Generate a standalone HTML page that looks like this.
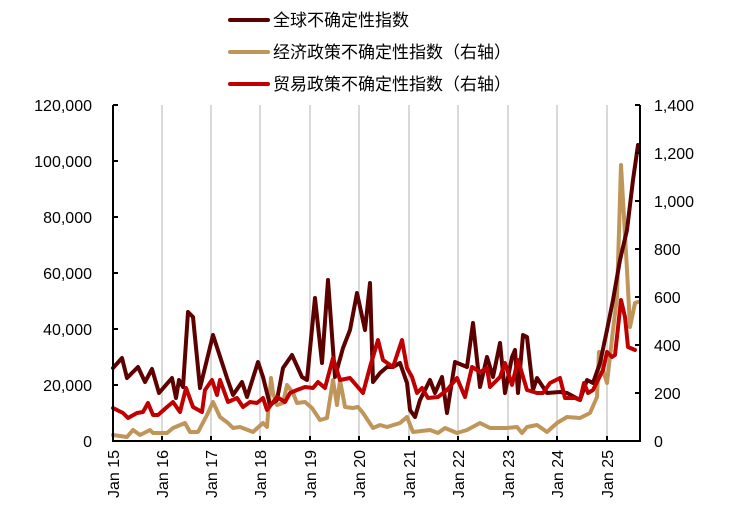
<!DOCTYPE html><html><head><meta charset="utf-8"><style>body{margin:0;background:#fff}svg{display:block}text{font-family:"Liberation Sans","Noto Sans CJK SC",sans-serif;fill:#000}</style></head><body>
<svg width="730" height="515" viewBox="0 0 730 515">
<g stroke="#d9d9d9" stroke-width="2">
<line x1="162" y1="105" x2="162" y2="441"/><line x1="211" y1="105" x2="211" y2="441"/><line x1="260" y1="105" x2="260" y2="441"/><line x1="310" y1="105" x2="310" y2="441"/><line x1="359" y1="105" x2="359" y2="441"/><line x1="409" y1="105" x2="409" y2="441"/><line x1="458" y1="105" x2="458" y2="441"/><line x1="508" y1="105" x2="508" y2="441"/><line x1="557" y1="105" x2="557" y2="441"/><line x1="607" y1="105" x2="607" y2="441"/>
</g>
<g fill="none" stroke-width="4" stroke-linejoin="round" stroke-linecap="round">
<polyline stroke="#c0955a" points="113,435 127,437 133,430 140,435 150,430 153,433 167,433 173,428 185,423 190,432 198,432 207,415 213,402 220,417 228,423 233,428 240,427 253,432 263,423 267,427 271,378 273,393 277,405 283,403 287,385 293,393 297,403 305,402 312,408 320,420 327,418 333,380 337,405 340,380 345,407 353,408 358,407 363,413 373,428 380,425 387,427 400,423 407,417 413,432 430,430 438,433 445,428 457,433 467,430 480,423 490,428 507,428 517,427 522,433 527,427 537,425 547,432 557,423 567,417 580,418 590,413 597,397 599,352 603,370 607,383 613,330 617,297 621,165 627,270 630,327 635,303 638,302"/>
<polyline stroke="#5c0000" points="113,368 122,358 127,378 138,367 145,382 152,369 159,393 172,378 176,398 179,380 183,387 188,312 193,317 200,388 213,335 227,378 233,395 242,382 247,397 258,362 263,377 270,405 277,400 283,368 292,355 302,377 307,380 315,298 322,363 328,280 335,377 343,348 350,330 357,293 365,330 370,283 373,382 380,373 387,367 393,367 400,363 407,383 410,410 415,417 420,400 430,380 435,393 442,377 447,413 455,362 467,367 473,323 480,387 487,357 493,377 500,343 505,393 512,357 515,350 518,393 523,335 527,337 533,390 537,378 547,393 560,392 567,393 580,400 587,380 593,383 600,363 607,330 613,300 620,260 627,230 633,180 638,145"/>
<polyline stroke="#c00000" points="113,408 123,413 128,418 137,413 143,412 148,403 153,415 158,415 167,407 173,402 180,412 186,388 193,407 202,412 205,390 212,380 217,395 220,380 228,402 237,398 243,407 250,402 257,403 263,398 267,410 277,397 285,402 290,393 297,390 305,387 313,388 318,382 325,388 333,358 340,380 350,378 363,393 370,367 378,340 383,360 393,367 398,352 402,340 407,368 412,377 417,393 422,388 428,398 438,397 447,390 457,378 465,397 472,367 480,372 487,368 490,387 500,377 505,363 512,385 518,360 527,390 537,393 543,393 550,383 560,378 565,398 575,398 580,400 584,383 588,393 593,390 603,370 607,352 612,357 615,355 621,300 625,317 628,347 635,350"/>
</g>
<g stroke="#000" stroke-width="2">
<line x1="113" y1="105" x2="113" y2="442"/><line x1="112" y1="441" x2="640" y2="441"/><line x1="640" y1="105" x2="640" y2="442"/>
<line x1="113" y1="105" x2="118" y2="105"/><line x1="113" y1="161" x2="118" y2="161"/><line x1="113" y1="217" x2="118" y2="217"/><line x1="113" y1="273" x2="118" y2="273"/><line x1="113" y1="329" x2="118" y2="329"/><line x1="113" y1="385" x2="118" y2="385"/>
<line x1="635" y1="105" x2="640" y2="105"/><line x1="635" y1="153" x2="640" y2="153"/><line x1="635" y1="201" x2="640" y2="201"/><line x1="635" y1="249" x2="640" y2="249"/><line x1="635" y1="297" x2="640" y2="297"/><line x1="635" y1="345" x2="640" y2="345"/><line x1="635" y1="393" x2="640" y2="393"/>
<line x1="162" y1="436" x2="162" y2="441"/><line x1="211" y1="436" x2="211" y2="441"/><line x1="260" y1="436" x2="260" y2="441"/><line x1="310" y1="436" x2="310" y2="441"/><line x1="359" y1="436" x2="359" y2="441"/><line x1="409" y1="436" x2="409" y2="441"/><line x1="458" y1="436" x2="458" y2="441"/><line x1="508" y1="436" x2="508" y2="441"/><line x1="557" y1="436" x2="557" y2="441"/><line x1="607" y1="436" x2="607" y2="441"/>
</g>
<g font-size="16" text-anchor="end">
<text x="92" y="111">120,000</text><text x="92" y="167">100,000</text><text x="92" y="223">80,000</text><text x="92" y="279">60,000</text><text x="92" y="335">40,000</text><text x="92" y="391">20,000</text><text x="92" y="447">0</text>
</g>
<g font-size="16">
<text x="654" y="111">1,400</text><text x="654" y="159">1,200</text><text x="654" y="207">1,000</text><text x="654" y="255">800</text><text x="654" y="303">600</text><text x="654" y="351">400</text><text x="654" y="399">200</text><text x="654" y="447">0</text>
</g>
<g font-size="16" text-anchor="end">
<text transform="translate(119,450) rotate(-90)">Jan 15</text><text transform="translate(168,450) rotate(-90)">Jan 16</text><text transform="translate(217,450) rotate(-90)">Jan 17</text><text transform="translate(266,450) rotate(-90)">Jan 18</text><text transform="translate(316,450) rotate(-90)">Jan 19</text><text transform="translate(365,450) rotate(-90)">Jan 20</text><text transform="translate(415,450) rotate(-90)">Jan 21</text><text transform="translate(464,450) rotate(-90)">Jan 22</text><text transform="translate(514,450) rotate(-90)">Jan 23</text><text transform="translate(563,450) rotate(-90)">Jan 24</text><text transform="translate(613,450) rotate(-90)">Jan 25</text>
</g>
<g stroke-width="4" stroke-linecap="round">
<line x1="230" y1="20" x2="268" y2="20" stroke="#5c0000"/><line x1="230" y1="52" x2="268" y2="52" stroke="#c0955a"/><line x1="230" y1="84" x2="268" y2="84" stroke="#c00000"/>
</g>
<g font-size="17">
<text x="273" y="26">全球不确定性指数</text><text x="273" y="58">经济政策不确定性指数（右轴）</text><text x="273" y="90">贸易政策不确定性指数（右轴）</text>
</g>
</svg></body></html>
